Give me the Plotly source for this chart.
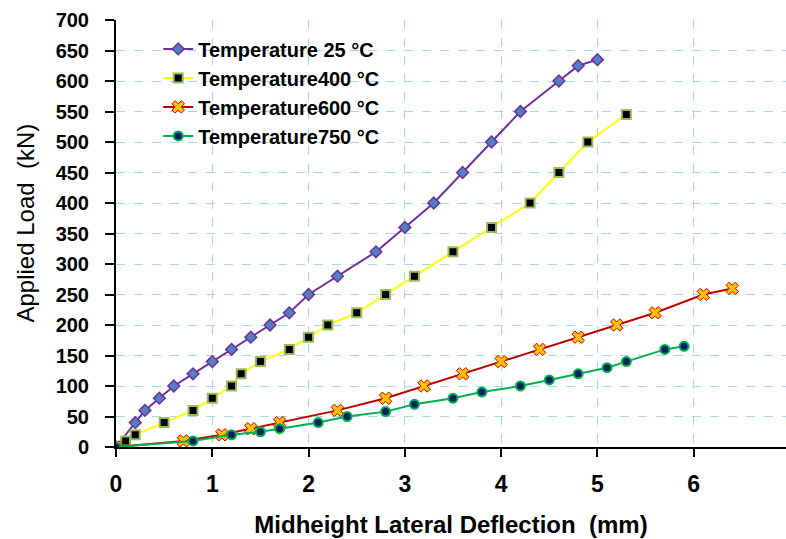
import plotly.graph_objects as go

# ---- data ----
x_25 = [0, 0.2, 0.3, 0.45, 0.6, 0.8, 1.0, 1.2, 1.4, 1.6, 1.8, 2.0, 2.3, 2.7, 3.0, 3.3, 3.6, 3.9, 4.2, 4.6, 4.8, 5.0]
y_25 = [0, 40, 60, 80, 100, 120, 140, 160, 180, 200, 220, 250, 280, 320, 360, 400, 450, 500, 550, 600, 625, 635]

x_400 = [0, 0.1, 0.2, 0.5, 0.8, 1.0, 1.2, 1.3, 1.5, 1.8, 2.0, 2.2, 2.5, 2.8, 3.1, 3.5, 3.9, 4.3, 4.6, 4.9, 5.3]
y_400 = [0, 10, 20, 40, 60, 80, 100, 120, 140, 160, 180, 200, 220, 250, 280, 320, 360, 400, 450, 500, 545]

x_600 = [0, 0.7, 1.1, 1.4, 1.7, 2.3, 2.8, 3.2, 3.6, 4.0, 4.4, 4.8, 5.2, 5.6, 6.1, 6.4]
y_600 = [0, 10, 20, 30, 40, 60, 80, 100, 120, 140, 160, 180, 200, 220, 250, 260]

x_750 = [0, 0.8, 1.2, 1.5, 1.7, 2.1, 2.4, 2.8, 3.1, 3.5, 3.8, 4.2, 4.5, 4.8, 5.1, 5.3, 5.7, 5.9]
y_750 = [0, 10, 20, 25, 30, 40, 50, 58, 70, 80, 90, 100, 110, 120, 130, 140, 160, 165]

names = ["Temperature 25 °C", "Temperature400 °C", "Temperature600 °C", "Temperature750 °C"]

x_ticks = [0, 1, 2, 3, 4, 5, 6, 7]
y_ticks = list(range(0, 701, 50))

# ---- styles ----
ARIAL = "Liberation Sans, Arial, sans-serif"

fig = go.Figure()
fig.add_trace(go.Scatter(
    x=x_25, y=y_25, name=names[0], mode="lines+markers",
    line=dict(color="#7030a0", width=2),
    marker=dict(symbol="diamond", size=9, color="#4f81bd", line=dict(color="#7030a0", width=1.5)),
))
fig.add_trace(go.Scatter(
    x=x_400, y=y_400, name=names[1], mode="lines+markers",
    line=dict(color="#ffff00", width=2),
    marker=dict(symbol="square", size=9, color="#000000", line=dict(color="#9bbb59", width=2)),
))
fig.add_trace(go.Scatter(
    x=x_600, y=y_600, name=names[2], mode="lines+markers",
    line=dict(color="#c00000", width=2),
    marker=dict(symbol="x", size=11, color="#ffc000", line=dict(color="#d00000", width=1)),
))
fig.add_trace(go.Scatter(
    x=x_750, y=y_750, name=names[3], mode="lines+markers",
    line=dict(color="#00b050", width=2),
    marker=dict(symbol="circle", size=9, color="#002060", line=dict(color="#00b050", width=2)),
))

L, R, T, B = 116, 0, 20, 92
W, H = 786, 539
xmax = 7 * (W - L - R) / 674.0

fig.update_layout(
    width=W, height=H,
    margin=dict(l=L, r=R, t=T, b=B, pad=0),
    paper_bgcolor="white", plot_bgcolor="white",
    showlegend=True,
    legend=dict(
        x=0.063, y=0.978, xanchor="left", yanchor="top",
        bgcolor="rgba(255,255,255,0)",
        font=dict(family=ARIAL, size=20, color="black", weight="bold"),
        tracegroupgap=0,
    ),
    xaxis=dict(
        range=[0, xmax], tickvals=x_ticks, ticktext=[str(v) for v in x_ticks],
        showgrid=True, gridcolor="#a8d8e8", griddash="dash", gridwidth=1,
        showline=True, linecolor="black", linewidth=2,
        ticks="outside", ticklen=8, tickwidth=2, tickcolor="black",
        ticklabelstandoff=7,
        tickfont=dict(family=ARIAL, size=23, color="black", weight="bold"),
        zeroline=False,
        title=dict(text="Midheight Lateral Deflection  (mm)", standoff=21,
                   font=dict(family=ARIAL, size=24, color="black", weight="bold")),
    ),
    yaxis=dict(
        range=[0, 700], tickvals=y_ticks, ticktext=[str(v) for v in y_ticks],
        showgrid=True, gridcolor="#a8d8e8", griddash="dash", gridwidth=1,
        showline=True, linecolor="black", linewidth=2,
        ticks="outside", ticklen=9, tickwidth=2, tickcolor="black",
        ticklabelstandoff=12,
        tickfont=dict(family=ARIAL, size=20, color="black", weight="bold"),
        zeroline=False,
    ),
    annotations=[dict(
        text="Applied Load  (kN)", xref="paper", yref="paper",
        x=(25 - L) / (W - L - R), y=(539 - B - 223.5) / (539 - T - B),
        xanchor="center", yanchor="middle", textangle=-90, showarrow=False,
        font=dict(family=ARIAL, size=24, color="black"),
    )],
)

fig.write_html("out.html")
